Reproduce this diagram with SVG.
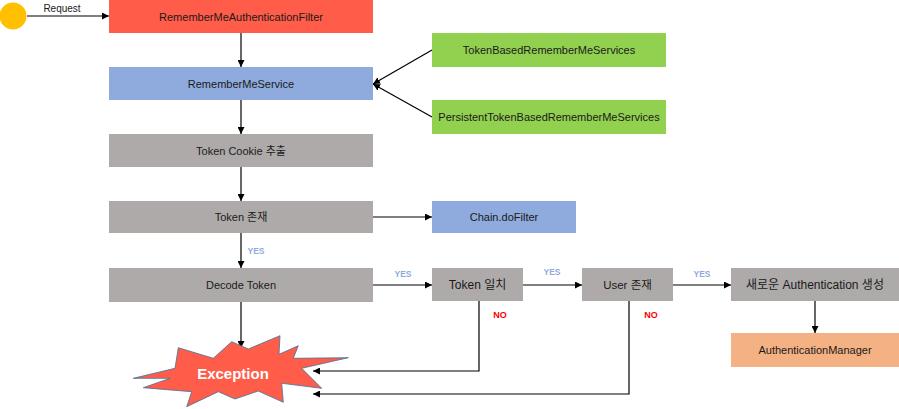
<svg xmlns="http://www.w3.org/2000/svg" width="899" height="409" viewBox="0 0 899 409">
<style>
text{font-family:"Liberation Sans","Noto Sans CJK KR",sans-serif;fill:#1a1a1a;font-size:11px;text-anchor:middle}
.gray{fill:#AEAAAA}
.blue{fill:#8FAADC}
.red{fill:#FF5C4A}
.green{fill:#92D050}
.orange{fill:#F4B183}
.yes{font-size:8.5px;font-weight:bold;fill:#8FAADC}
.no{font-size:9px;font-weight:bold;fill:#FF0000}
.c{fill:none;stroke:#000;stroke-width:1.2;marker-end:url(#ah)}
</style>
<defs>
<marker id="ah" viewBox="0 0 10 10" refX="10" refY="5" markerWidth="7" markerHeight="7" markerUnits="userSpaceOnUse" orient="auto">
<path d="M0,0 L10,5 L0,10 z" fill="#000"/>
</marker>
</defs>
<g id="connectors">
<path class="c" d="M27,16 H109"/>
<path class="c" d="M241,33 V67"/>
<path class="c" d="M432,50 L373,84"/>
<path class="c" d="M432,117 L373,84"/>
<path class="c" d="M241,100 V134"/>
<path class="c" d="M241,167 V201"/>
<path class="c" d="M373,217 H432"/>
<path class="c" d="M241,233 V268"/>
<path class="c" d="M241,302 V348"/>
<path class="c" d="M373,285 H432"/>
<path class="c" d="M523,285 H582"/>
<path class="c" d="M673,285 H731"/>
<path class="c" d="M815,301 V333"/>
<path class="c" d="M479,301 V371 H313"/>
<path class="c" d="M629,301 V394 H313"/>
<text x="62" y="12" style="font-size:10px">Request</text>
<text class="yes" x="256" y="254">YES</text>
<text class="yes" x="403" y="277">YES</text>
<text class="yes" x="552" y="275">YES</text>
<text class="yes" x="702" y="277">YES</text>
<text class="no" x="500" y="318">NO</text>
<text class="no" x="651" y="318">NO</text>
</g>
<g id="start"><circle cx="13" cy="16" r="13.5" fill="#FFC000"/></g>
<g id="filter"><rect class="red" x="109" y="0" width="264" height="33"/><text x="241" y="20.5">RememberMeAuthenticationFilter</text></g>
<g id="service"><rect class="blue" x="109" y="67" width="264" height="33"/><text x="241" y="87.5">RememberMeService</text></g>
<g id="tokenbased"><rect class="green" x="432" y="33" width="234" height="34"/><text x="549" y="54">TokenBasedRememberMeServices</text></g>
<g id="persistent"><rect class="green" x="432" y="100" width="234" height="34"/><text x="549" y="121">PersistentTokenBasedRememberMeServices</text></g>
<g id="cookie"><rect class="gray" x="109" y="134" width="264" height="33"/><text x="241" y="154.5">Token Cookie 추출</text></g>
<g id="exists"><rect class="gray" x="109" y="201" width="264" height="32"/><text x="241" y="221">Token 존재</text></g>
<g id="chain"><rect class="blue" x="432" y="201" width="144" height="32"/><text x="504" y="221">Chain.doFilter</text></g>
<g id="decode"><rect class="gray" x="109" y="268" width="264" height="34"/><text x="241" y="289">Decode Token</text></g>
<g id="match"><rect class="gray" x="432" y="268" width="91" height="33"/><text x="477.5" y="289" style="font-size:12px">Token 일치</text></g>
<g id="user"><rect class="gray" x="582" y="268" width="91" height="33"/><text x="627.5" y="289" style="font-size:11.5px">User 존재</text></g>
<g id="newauth"><rect class="gray" x="731" y="268" width="168" height="33"/><text x="815" y="289" style="font-size:12px">새로운 Authentication 생성</text></g>
<g id="manager"><rect class="orange" x="731" y="333" width="168" height="34"/><text x="815" y="354">AuthenticationManager</text></g>
<g id="exception">
<polygon class="red" stroke="#41719C" stroke-width="0.8" points="178.3,347.7 213.3,358.3 231.7,341.7 248.3,349 280,335.7 279,354.3 298.3,345.7 293.3,358.3 348.3,357.7 301.7,368.3 321.7,388.3 281.7,383.3 283.3,402.3 258.3,391 235,399 218.3,391.7 186.7,406.7 191.7,391.7 143.3,387.7 170,378.3 133.3,378.3 175,368.3"/>
<text x="233" y="378.5" style="font-size:15px;font-weight:bold;fill:#fff">Exception</text>
</g>
</svg>
